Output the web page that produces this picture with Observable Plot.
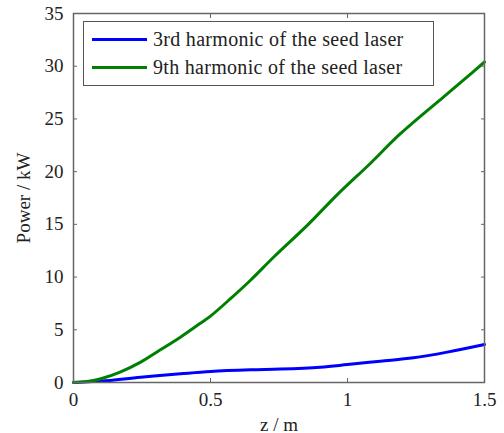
<!DOCTYPE html>
<html>
<head>
<meta charset="utf-8">
<script src="https://cdn.jsdelivr.net/npm/d3@7"></script>
<script src="https://cdn.jsdelivr.net/npm/@observablehq/plot@0.6"></script>
<style>
  html, body { margin: 0; padding: 0; background: #fff; }
  #wrap { position: relative; width: 504px; height: 433px; }
  #wrap svg, #wrap svg text { font-family: "Liberation Serif", "DejaVu Serif", "Times New Roman", serif !important; }
  #legend {
    position: absolute; left: 83px; top: 21px; width: 349px; height: 63px;
    border: 1.5px solid #555; background: #fff; box-sizing: content-box;
    font-family: "Liberation Serif", "DejaVu Serif", "Times New Roman", serif; font-size: 20px; letter-spacing: 0.3px; color: #222;
  }
  .item { position: absolute; left: 8px; height: 20px; display: flex; align-items: center; white-space: nowrap; }
  .swatch { width: 55px; height: 3px; margin-right: 6px; flex: none; }
</style>
</head>
<body>
<div id="wrap"></div>
<script>
const xTicks = [0, 0.5, 1, 1.5];
const yTicks = [0, 5, 10, 15, 20, 25, 30, 35];
const seriesNames = ["3rd harmonic of the seed laser", "9th harmonic of the seed laser"];
const seriesColors = ["#0000ff", "#008000"];

const z3 = [0, 0.1, 0.245, 0.39, 0.5, 0.646, 0.755, 0.9, 1.0, 1.12, 1.24, 1.364, 1.5];
const p3 = [0, 0.13, 0.5, 0.82, 1.04, 1.2, 1.27, 1.45, 1.7, 2.02, 2.34, 2.88, 3.6];

const z9 = [0, 0.05, 0.1, 0.17, 0.245, 0.317, 0.39, 0.46, 0.5, 0.573, 0.646, 0.731, 0.853, 0.962, 1.084, 1.193, 1.351, 1.424, 1.5];
const p9 = [0, 0.1, 0.35, 0.98, 1.93, 3.1, 4.3, 5.57, 6.3, 7.95, 9.7, 11.9, 14.9, 17.8, 20.8, 23.6, 27.1, 28.7, 30.4];

const d3rd = z3.map((z, i) => ({z, p: p3[i]}));
const d9th = z9.map((z, i) => ({z, p: p9[i]}));

const fmt = d => String(d);
const frameColor = "#666";

const chart = Plot.plot({
  width: 504, height: 433,
  marginLeft: 73, marginRight: 20, marginTop: 13, marginBottom: 51,
  style: {fontFamily: "'Liberation Serif', serif", fontSize: "19px", color: "#222", background: "#fff", overflow: "visible"},
  x: {domain: [0, 1.5]},
  y: {domain: [0, 35]},
  marks: [
    Plot.line(d3rd, {x: "z", y: "p", stroke: seriesColors[0], strokeWidth: 3, curve: "catmull-rom"}),
    Plot.line(d9th, {x: "z", y: "p", stroke: seriesColors[1], strokeWidth: 3, curve: "catmull-rom"}),
    Plot.frame({stroke: frameColor, strokeWidth: 1.5}),
    Plot.axisX(xTicks, {anchor: "bottom", tickSize: 0, tickPadding: 10, tickFormat: fmt, label: "z / m", labelAnchor: "center", labelArrow: "none", labelOffset: 48, fontSize: 19}),
    Plot.axisX(xTicks, {anchor: "bottom", tickSize: 4, dy: -4, tickFormat: () => "", label: null, stroke: frameColor}),
    Plot.axisX(xTicks, {anchor: "top", tickSize: 4, dy: 4, tickFormat: () => "", label: null, stroke: frameColor}),
    Plot.axisY(yTicks, {anchor: "left", tickSize: 0, tickPadding: 10, tickFormat: fmt, label: "Power / kW", labelAnchor: "center", labelArrow: "none", labelOffset: 57, fontSize: 19}),
    Plot.axisY(yTicks, {anchor: "left", tickSize: 4, dx: 4, tickFormat: () => "", label: null, stroke: frameColor}),
    Plot.axisY(yTicks, {anchor: "right", tickSize: 4, dx: -4, tickFormat: () => "", label: null, stroke: frameColor})
  ]
});
const wrap = document.getElementById("wrap");
wrap.appendChild(chart);

const legend = document.createElement("div");
legend.id = "legend";
seriesNames.forEach((name, i) => {
  const item = document.createElement("div");
  item.className = "item";
  item.style.top = (i === 0 ? 7 : 35) + "px";
  const sw = document.createElement("div");
  sw.className = "swatch";
  sw.style.background = seriesColors[i];
  const tx = document.createElement("span");
  tx.textContent = name;
  item.appendChild(sw);
  item.appendChild(tx);
  legend.appendChild(item);
});
wrap.appendChild(legend);
</script>
</body>
</html>
